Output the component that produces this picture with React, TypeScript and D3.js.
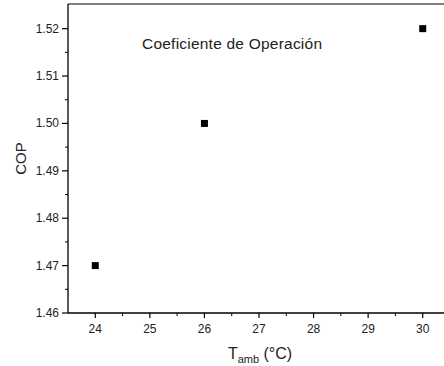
import React, { useEffect, useRef } from "react";
import * as d3 from "d3";

const tempValues = [24, 26, 30];
const copValues = [1.47, 1.5, 1.52];
const xTicks = [24, 25, 26, 27, 28, 29, 30];
const yTicks = [1.46, 1.47, 1.48, 1.49, 1.5, 1.51, 1.52];
const titleText = "Coeficiente de Operación";

const W = 444;
const H = 366;
const margin = { left: 68, top: 4, right: 0, bottom: 53 };

export default function App() {
  const ref = useRef<SVGSVGElement | null>(null);
  useEffect(() => {
    const svg = d3.select(ref.current);
    svg.selectAll("*").remove();
    const x = d3.scaleLinear().domain([23.5, 30.5]).range([margin.left, 450]);
    const y = d3.scaleLinear().domain([1.46, 1.5252]).range([H - margin.bottom, margin.top]);
    const font = "Arial, 'Liberation Sans', sans-serif";
    const x0 = margin.left;
    const yB = H - margin.bottom;

    // frame lines
    svg.append("line").attr("x1", x0).attr("x2", W).attr("y1", margin.top).attr("y2", margin.top).attr("stroke", "#000").attr("stroke-width", 1);
    svg.append("line").attr("x1", x0).attr("x2", W).attr("y1", yB).attr("y2", yB).attr("stroke", "#000").attr("stroke-width", 1.3);
    svg.append("line").attr("x1", x0).attr("x2", x0).attr("y1", margin.top).attr("y2", yB).attr("stroke", "#000").attr("stroke-width", 1.3);

    // x ticks
    const xMinor = xTicks.map((t) => t + 0.5).filter((t) => t > 23.5 && t < 30.5);
    svg.selectAll(".xt").data(xTicks).enter().append("line")
      .attr("x1", (d) => x(d)).attr("x2", (d) => x(d)).attr("y1", yB).attr("y2", yB + 5)
      .attr("stroke", "#000").attr("stroke-width", 1.2);
    svg.selectAll(".xm").data(xMinor).enter().append("line")
      .attr("x1", (d) => x(d)).attr("x2", (d) => x(d)).attr("y1", yB).attr("y2", yB + 3)
      .attr("stroke", "#000").attr("stroke-width", 1);
    svg.selectAll(".xl").data(xTicks).enter().append("text")
      .attr("x", (d) => x(d)).attr("y", yB + 20).attr("text-anchor", "middle")
      .attr("font-family", font).attr("font-size", 12).attr("fill", "#222")
      .text((d) => String(d));

    // y ticks
    const yMinor = yTicks.map((t) => t + 0.005).filter((t) => t < 1.525);
    svg.selectAll(".yt").data(yTicks).enter().append("line")
      .attr("x1", x0 - 6).attr("x2", x0).attr("y1", (d) => y(d)).attr("y2", (d) => y(d))
      .attr("stroke", "#000").attr("stroke-width", 1.2);
    svg.selectAll(".ym").data(yMinor).enter().append("line")
      .attr("x1", x0 - 3).attr("x2", x0).attr("y1", (d) => y(d)).attr("y2", (d) => y(d))
      .attr("stroke", "#000").attr("stroke-width", 1);
    svg.selectAll(".yl").data(yTicks).enter().append("text")
      .attr("x", x0 - 9).attr("y", (d) => y(d) + 4).attr("text-anchor", "end")
      .attr("font-family", font).attr("font-size", 12).attr("fill", "#222")
      .text((d) => d3.format(".2f")(d));

    // axis labels
    const xl = svg.append("text").attr("x", 260).attr("y", 359).attr("text-anchor", "middle")
      .attr("font-family", font).attr("font-size", 16).attr("fill", "#222");
    xl.append("tspan").text("T");
    xl.append("tspan").attr("font-size", 11).attr("dy", 4).text("amb");
    xl.append("tspan").attr("dy", -4).text(" (°C)");

    svg.append("text").attr("transform", `translate(26, ${(margin.top + yB) / 2}) rotate(-90)`)
      .attr("text-anchor", "middle").attr("font-family", font).attr("font-size", 15).attr("fill", "#222")
      .text("COP");

    svg.append("text").attr("x", 142).attr("y", 49)
      .attr("font-family", font).attr("font-size", 15.5).attr("fill", "#222")
      .attr("textLength", 180).attr("lengthAdjust", "spacing").text(titleText);

    // points
    const s = 7;
    svg.selectAll(".pt").data(tempValues.map((t, i) => [t, copValues[i]])).enter().append("rect")
      .attr("x", (d) => x(d[0]) - s / 2).attr("y", (d) => y(d[1]) - s / 2)
      .attr("width", s).attr("height", s).attr("fill", "#000");
  }, []);
  return (
    <svg ref={ref} width={W} height={H} style={{ position: "absolute", left: 0, top: 0, background: "#fff" }} />
  );
}
